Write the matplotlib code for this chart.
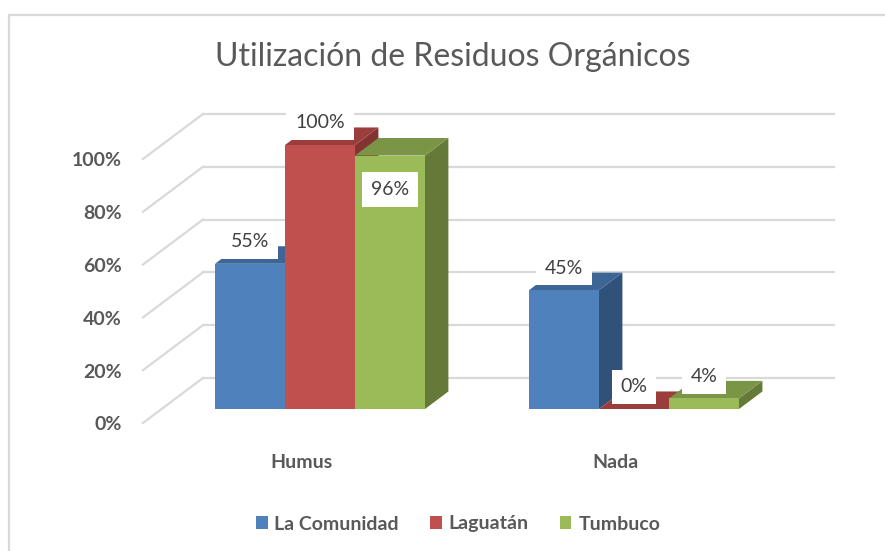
import matplotlib
matplotlib.use("Agg")
import matplotlib.pyplot as plt
from matplotlib.patches import Polygon, Rectangle, Patch
import numpy as np

plt.rcParams['font.family'] = ['Lato', 'DejaVu Sans']

# ---------------- data ----------------
title = "Utilización de Residuos Orgánicos"
categories = ["Humus", "Nada"]
series_names = ["La Comunidad", "Laguatán", "Tumbuco"]
la_comunidad = [55, 45]
laguatan = [100, 0]
tumbuco = [96, 4]
yticks = [0, 20, 40, 60, 80, 100]
ytick_labels = ["0%", "20%", "40%", "60%", "80%", "100%"]

series_values = [la_comunidad, laguatan, tumbuco]
front_colors = ["#4F81BD", "#C0504D", "#9BBB59"]
top_colors = ["#3D6595", "#9B3E3B", "#7A9545"]
side_colors = ["#30517A", "#833331", "#657A38"]

# ---------------- layout (pixels) ----------------
W, H = 885, 551
fig = plt.figure(figsize=(W / 100, H / 100), dpi=100)
fig.patch.set_facecolor("white")

# outer chart border
fig.add_artist(Rectangle((9 / W, -0.05), 1.1, (H - 15) / H + 0.05,
                         transform=fig.transFigure, fill=False,
                         edgecolor="#D9D9D9", lw=1.6))

ax_left_px, ax_right_px = 143, 835
base_px, top_px = 409, 145          # value 0 and 100 on bar front plane
c0_px, c1_px = 320, 634             # group centres
ppx = c1_px - c0_px                 # px per category unit
ppy = (base_px - top_px) / 100.0    # px per percent

ax = fig.add_axes([ax_left_px / W, (H - base_px) / H,
                   (ax_right_px - ax_left_px) / W, (base_px - top_px) / H])
ax.set_xlim((ax_left_px - c0_px) / ppx, (ax_right_px - c0_px) / ppx)
ax.set_ylim(0, 100)
ax.axis("off")

def dx(px):
    return px / ppx

def dy(px):
    return px / ppy

# depth geometry
D = (60, 45)          # full floor depth in px (right, up)
d0 = 0.31             # depth of bars' front plane
bar_depth = 0.39
grid_color = "#D9D9D9"

wall_front_x = dx(ax_left_px - c0_px)
wall_back_x = wall_front_x + dx(D[0])
right_end_x = dx(834 - c0_px)
front_off_y = -d0 * dy(D[1])
back_off_y = (1 - d0) * dy(D[1])

for v in yticks:
    ax.plot([wall_front_x, wall_back_x], [v + front_off_y, v + back_off_y],
            color=grid_color, lw=1.6, clip_on=False, zorder=1)
    ax.plot([wall_back_x, right_end_x], [v + back_off_y, v + back_off_y],
            color=grid_color, lw=1.6, clip_on=False, zorder=1)

for v, lab in zip(yticks, ytick_labels):
    ax.text(wall_front_x - dx(21), v + front_off_y - dy(2), lab,
            ha="right", va="center", fontsize=14, color="#595959",
            fontweight="bold", clip_on=False)

# ---------------- bars ----------------
bw = dx(70)
bdx = bar_depth * dx(D[0])
bdy = bar_depth * dy(D[1])
n = len(series_values)
x_idx = np.arange(len(categories))

for gi in range(len(categories)):
    for si in range(n):
        v = series_values[si][gi]
        x0 = x_idx[gi] + (si - n / 2) * bw
        x1 = x0 + bw
        z = 3 + si
        side = Polygon([(x1, 0), (x1, v), (x1 + bdx, v + bdy), (x1 + bdx, bdy)],
                       closed=True, facecolor=side_colors[si], edgecolor="none",
                       clip_on=False, zorder=z)
        top = Polygon([(x0, v), (x1, v), (x1 + bdx, v + bdy), (x0 + bdx, v + bdy)],
                      closed=True, facecolor=top_colors[si], edgecolor="none",
                      clip_on=False, zorder=z)
        ax.add_patch(side)
        ax.add_patch(top)
        ax.bar(x0, v, width=bw, align="edge", color=front_colors[si],
               edgecolor="none", zorder=z, clip_on=False)

# ---------------- data labels ----------------
for gi in range(len(categories)):
    group_max = max(s[gi] for s in series_values)
    for si in range(n):
        v = series_values[si][gi]
        xc = x_idx[gi] + (si - n / 2 + 0.5) * bw
        inside = v >= 90 and v < group_max
        yl = v - dy(34) if inside else v + dy(22)
        ax.text(xc, yl, f"{v}%", ha="center", va="center", fontsize=14,
                color="#404040", zorder=10, clip_on=False,
                bbox=dict(boxstyle="square,pad=0.45", facecolor="white",
                          edgecolor="none"))

# ---------------- category labels ----------------
for gi, cat in enumerate(categories):
    ax.text(x_idx[gi] - dx(18), -dy(462 - base_px), cat, ha="center",
            va="center", fontsize=14, color="#595959", fontweight="bold",
            clip_on=False)

# ---------------- title ----------------
fig.text(453 / W, 1 - 57 / H, title, ha="center", va="center",
         fontsize=23, color="#595959")

# ---------------- legend ----------------
handles = [Patch(facecolor=c, edgecolor="none") for c in front_colors]
fig.legend(handles, series_names, loc="center", ncol=3,
           bbox_to_anchor=(458 / W, 1 - 524 / H), frameon=False,
           handlelength=0.6, handleheight=0.6,
           handletextpad=0.35, columnspacing=1.6,
           prop={"weight": "bold", "size": 14},
           labelcolor="#595959")

fig.savefig("out.png", dpi=100)
